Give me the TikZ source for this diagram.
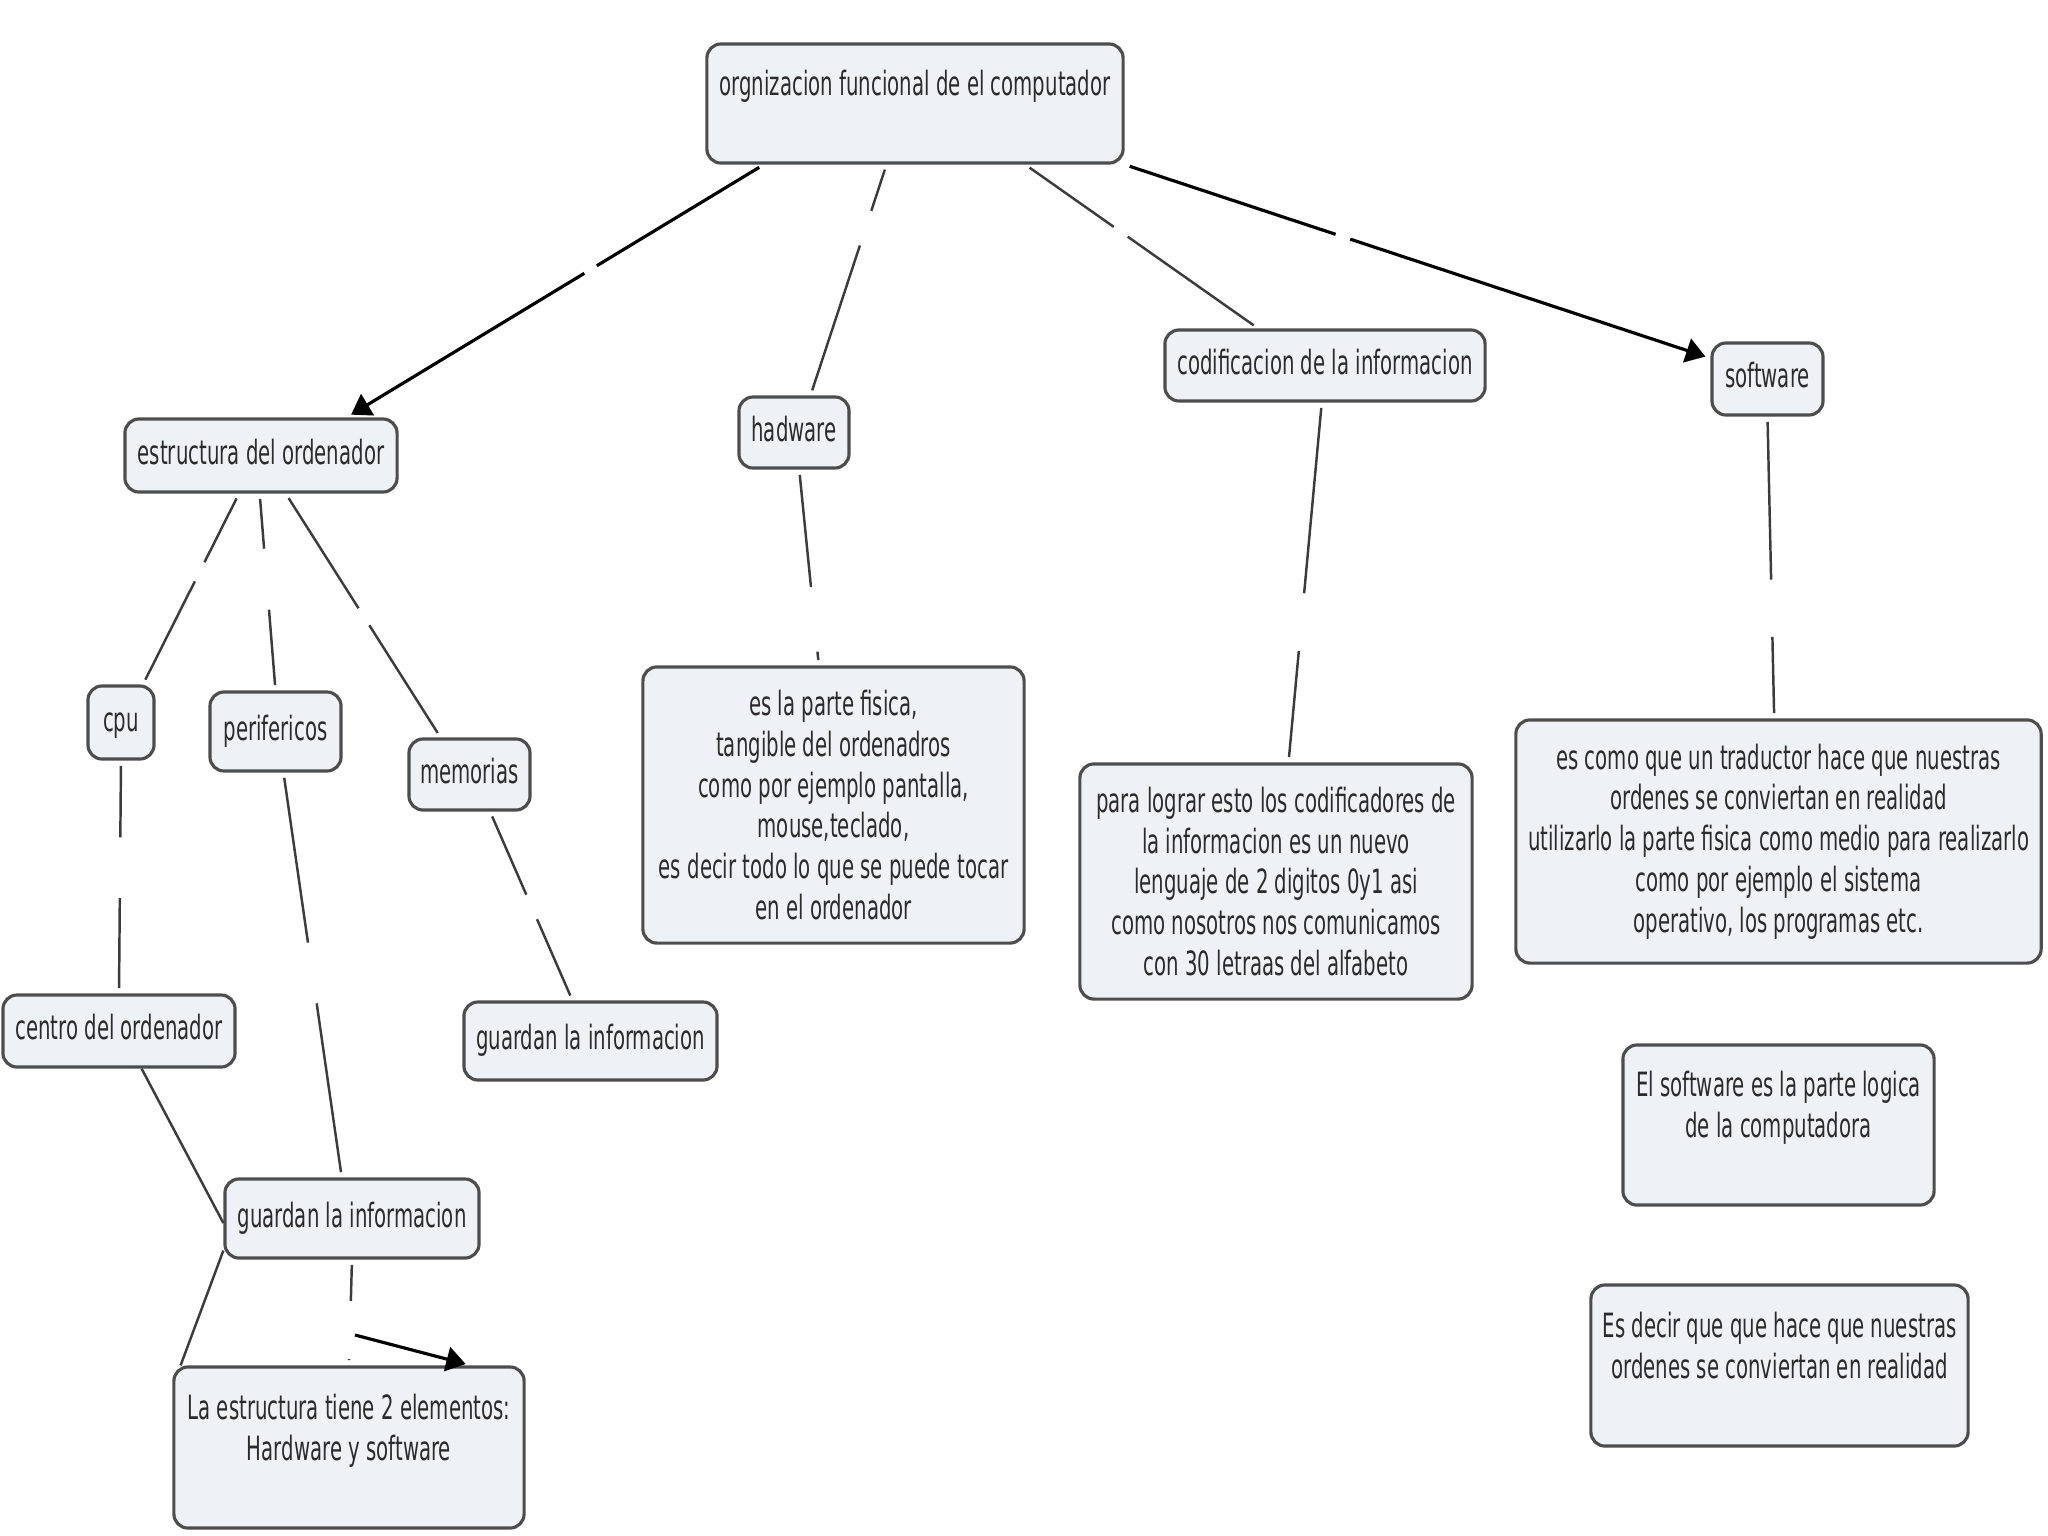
\documentclass[tikz,border=0pt]{standalone}
\usepackage{fontspec}
\setmainfont{DejaVu Sans}[FakeStretch=0.59]
\usepackage{tikz}
\usetikzlibrary{arrows.meta,calc}
\definecolor{boxfill}{HTML}{EEF1F5}
\definecolor{boxline}{HTML}{4D4D4D}
\definecolor{inkgray}{HTML}{2B2B2B}
\definecolor{linkgray}{HTML}{3C3C3C}

% connector with a blank gap where the linking phrase sits
\newcommand\gaplink[5][]{%
  \draw[cmlink,#1,-,shorten <=1.5pt] (#2) -- ($(#2)!#4!(#3)$);
  \draw[cmlink,#1,shorten >=1.5pt] ($(#2)!#5!(#3)$) -- (#3);}

\begin{document}
\begin{tikzpicture}[x=0.01cm,y=-0.01cm,
  concept/.style={draw=boxline,fill=boxfill,line width=0.9pt,rounded corners=4pt,
    inner sep=0pt,text=inkgray,align=center,font=\fontsize{9.5}{11.6}\selectfont},
  word/.style={concept,text height=7.2pt,text depth=2.3pt},
  cmlink/.style={draw=linkgray,line width=0.7pt},
  arr/.style={draw=black,line width=0.9pt,-{Triangle[length=5.5pt,width=7pt]}}]
  \useasboundingbox (0,0) rectangle (2048,1536);

  \node[concept,minimum width=4.16cm,minimum height=1.19cm] (org) at (915,103.5)
    {orgnizacion funcional de el computador\\\mbox{}};
  \node[word,minimum width=2.72cm,minimum height=0.73cm] (estr) at (261,455.5) {estructura del ordenador};
  \node[word,minimum width=1.10cm,minimum height=0.71cm] (hadw) at (794,432.5) {hadware};
  \node[word,minimum width=3.20cm,minimum height=0.71cm] (codif) at (1325,365.5) {codificacion de la informacion};
  \node[word,minimum width=1.11cm,minimum height=0.72cm] (softw) at (1767.5,379) {software};
  \node[word,minimum width=0.66cm,minimum height=0.73cm] (cpu) at (121,722.5) {cpu};
  \node[word,minimum width=1.31cm,minimum height=0.79cm] (perif) at (275.5,731.5) {perifericos};
  \node[word,minimum width=1.21cm,minimum height=0.71cm] (memo) at (469.5,774.5) {memorias};
  \node[word,minimum width=2.32cm,minimum height=0.72cm] (centro) at (119,1031) {centro del ordenador};
  \node[word,minimum width=2.54cm,minimum height=0.79cm] (guard1) at (352,1218.5) {guardan la informacion};
  \node[word,minimum width=2.53cm,minimum height=0.78cm] (guard2) at (590.5,1041) {guardan la informacion};
  \node[concept,minimum width=3.50cm,minimum height=1.61cm] (laestr) at (349,1447.5)
    {La estructura tiene 2 elementos:\\Hardware y software\\\mbox{}};
  \node[concept,minimum width=3.81cm,minimum height=2.76cm] (hwtxt) at (833.5,805)
    {es la parte fisica,\\tangible del ordenadros\\como por ejemplo pantalla,\\mouse,teclado,\\es decir todo lo que se puede tocar\\en el ordenador};
  \node[concept,minimum width=3.92cm,minimum height=2.35cm] (para) at (1276,881.5)
    {para lograr esto los codificadores de\\la informacion es un nuevo\\lenguaje de 2 digitos 0y1 asi\\como nosotros nos comunicamos\\con 30 letraas del alfabeto};
  \node[concept,minimum width=5.25cm,minimum height=2.43cm] (swtxt) at (1778.5,841.5)
    {es como que un traductor hace que nuestras\\ordenes se conviertan en realidad\\utilizarlo la parte fisica como medio para realizarlo\\como por ejemplo el sistema\\operativo, los programas etc.};
  \node[concept,minimum width=3.11cm,minimum height=1.60cm] (elsw) at (1778.5,1125)
    {El software es la parte logica\\de la computadora\\\mbox{}};
  \node[concept,minimum width=3.77cm,minimum height=1.61cm] (esdec) at (1779.5,1365.5)
    {Es decir que que hace que nuestras\\ordenes se conviertan en realidad\\\mbox{}};

  \gaplink[arr]{org.202}{estr.24}{0.40}{0.43}
  \gaplink{org.245}{hadw.66}{0.20}{0.35}
  \gaplink{org.331}{codif.151}{0.38}{0.44}
  \gaplink[arr]{org.south east}{softw.160}{0.36}{0.385}
  \gaplink{estr.240}{cpu.60}{0.36}{0.46}
  \gaplink{estr.268}{perif.north}{0.28}{0.59}
  \gaplink{estr.303}{memo.128}{0.47}{0.54}
  \gaplink{hadw.278}{hwtxt.96}{0.60}{0.93}
  \gaplink{codif.265}{para.84}{0.53}{0.69}
  \gaplink{softw.south}{swtxt.92}{0.54}{0.73}
  \gaplink{cpu.south}{centro.north}{0.33}{0.59}
  \gaplink{perif.281}{guard1.104}{0.42}{0.57}
  \gaplink{memo.299}{guard2.114}{0.44}{0.57}
  \draw[cmlink] (centro.301) -- (guard1.182);
  \draw[cmlink] (guard1.194) -- (laestr.154);
  \gaplink{guard1.south}{laestr.north}{0.39}{0.94}
  \coordinate (lnk) at (355,1335);
  \draw[arr,shorten >=1.5pt] (lnk) -- (laestr.34);
\end{tikzpicture}
\end{document}
